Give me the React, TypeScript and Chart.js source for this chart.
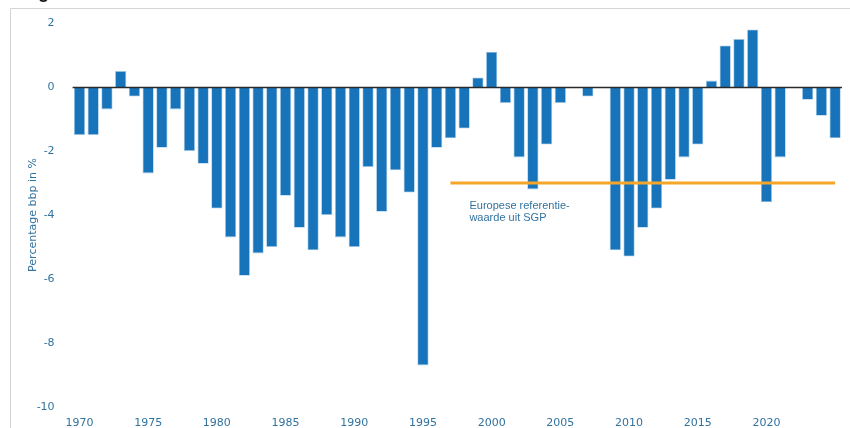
import React, { useEffect, useRef } from "react";
import { Chart, registerables } from "chart.js";

Chart.register(...registerables);

const years: string[] = [];
for (let y = 1970; y <= 2025; y++) years.push(String(y));

const balance: number[] = [
  -1.5, -1.5, -0.7, 0.5, -0.3, -2.7, -1.9, -0.7, -2.0, -2.4,
  -3.8, -4.7, -5.9, -5.2, -5.0, -3.4, -4.4, -5.1, -4.0, -4.7,
  -5.0, -2.5, -3.9, -2.6, -3.3, -8.7, -1.9, -1.6, -1.3, 0.3,
  1.1, -0.5, -2.2, -3.2, -1.8, -0.5, 0, -0.3, 0, -5.1,
  -5.3, -4.4, -3.8, -2.9, -2.2, -1.8, 0.2, 1.3, 1.5, 1.8,
  -3.6, -2.2, 0, -0.4, -0.9, -1.6,
];

const referenceStartYear = "1997";
const referenceValue = -3;
const referenceLine: (number | null)[] = years.map((y) =>
  Number(y) >= Number(referenceStartYear) ? referenceValue : null
);

const xTickLabels = ["1970", "1975", "1980", "1985", "1990", "1995", "2000", "2005", "2010", "2015", "2020"];
const yTicks = [2, 0, -2, -4, -6, -8, -10];

const titleText = "Figuur 1 EMU-saldo Nederland 1970-2025";
const yTitle = "Percentage bbp in %";
const annotationLines = ["Europese referentie-", "waarde uit SGP"];

const BLUE = "#1874ba";
const TEXT_BLUE = "#31739f";
const ORANGE = "#f5a629";

export default function App() {
  const ref = useRef<HTMLCanvasElement | null>(null);

  useEffect(() => {
    if (!ref.current) return;

    const framePlugin = {
      id: "frame",
      beforeDraw(chart: any) {
        const ctx = chart.ctx;
        ctx.save();
        ctx.fillStyle = "#ffffff";
        ctx.fillRect(0, 0, chart.width, chart.height);
        ctx.strokeStyle = "#d4d4d4";
        ctx.lineWidth = 1;
        ctx.beginPath();
        ctx.moveTo(10.5, chart.height);
        ctx.lineTo(10.5, 8.5);
        ctx.lineTo(chart.width, 8.5);
        ctx.stroke();
        ctx.fillStyle = "#111";
        ctx.font = "bold 18px 'Liberation Sans', Arial, sans-serif";
        ctx.textBaseline = "alphabetic";
        ctx.textAlign = "left";
        ctx.fillText(titleText, 22, -2);
        ctx.restore();
      },
    };

    const overlayPlugin = {
      id: "overlay",
      afterDatasetsDraw(chart: any) {
        const ctx = chart.ctx;
        const { left, right } = chart.chartArea;
        const ys = chart.scales.y;
        const xs = chart.scales.x;
        const y0 = Math.round(ys.getPixelForValue(0)) + 0.5;
        ctx.save();
        ctx.strokeStyle = "#2a2a2a";
        ctx.lineWidth = 1.5;
        ctx.beginPath();
        ctx.moveTo(left, y0);
        ctx.lineTo(right, y0);
        ctx.stroke();

        // annotation
        const ax = xs.getPixelForValue(years.indexOf(referenceStartYear)) + 19;
        const ay = ys.getPixelForValue(referenceValue) + 23;
        ctx.fillStyle = TEXT_BLUE;
        ctx.font = "11px 'Liberation Sans', Arial, sans-serif";
        ctx.textAlign = "left";
        ctx.textBaseline = "middle";
        annotationLines.forEach((t, i) => ctx.fillText(t, ax, ay + i * 12));

        // y title
        const cy = (chart.chartArea.top + chart.chartArea.bottom) / 2;
        ctx.translate(33, cy);
        ctx.rotate(-Math.PI / 2);
        ctx.textAlign = "center";
        ctx.font = "11px 'DejaVu Sans', Verdana, sans-serif";
        ctx.fillText(yTitle, 0, 0);
        ctx.restore();
      },
    };

    const chart = new Chart(ref.current, {
      type: "bar",
      data: {
        labels: years,
        datasets: [
          {
            type: "line",
            label: "Europese referentiewaarde uit SGP",
            data: referenceLine,
            borderColor: ORANGE,
            borderWidth: 3,
            pointRadius: 0,
            fill: false,
            spanGaps: false,
            order: 0,
          } as any,
          {
            type: "bar",
            label: "EMU-saldo",
            data: balance,
            backgroundColor: BLUE,
            borderColor: "#a8cbe8",
            borderWidth: 0.8,
            categoryPercentage: 1,
            barPercentage: 0.82,
            order: 1,
          } as any,
        ],
      },
      options: {
        responsive: false,
        animation: false,
        devicePixelRatio: 1,
        layout: { padding: { top: 23, right: 8, left: 0, bottom: 0 } },
        plugins: {
          legend: { display: false },
          tooltip: { enabled: false },
          title: { display: false },
        },
        scales: {
          x: {
            type: "category",
            grid: { display: false },
            border: { display: false },
            ticks: {
              autoSkip: false,
              maxRotation: 0,
              padding: 2,
              color: TEXT_BLUE,
              font: { family: "'DejaVu Sans', Verdana, sans-serif", size: 11 },
              callback: (_v: any, i: number) => (xTickLabels.includes(years[i]) ? years[i] : ""),
            },
            afterFit: (s: any) => {
              s.height = 21;
            },
          },
          y: {
            min: -10,
            max: 2,
            grid: { display: false },
            border: { display: false },
            afterBuildTicks: (s: any) => {
              s.ticks = yTicks.map((v) => ({ value: v }));
            },
            ticks: {
              padding: 10,
              color: TEXT_BLUE,
              font: { family: "'DejaVu Sans', Verdana, sans-serif", size: 11 },
            },
            afterFit: (s: any) => {
              s.width = 72.6;
            },
          },
        },
      },
      plugins: [framePlugin, overlayPlugin],
    });
    return () => chart.destroy();
  }, []);

  return (
    <div style={{ position: "fixed", left: 0, top: 0, width: 850, height: 428, background: "#fff" }}>
      <canvas ref={ref} width={850} height={428} style={{ display: "block" }} />
    </div>
  );
}
